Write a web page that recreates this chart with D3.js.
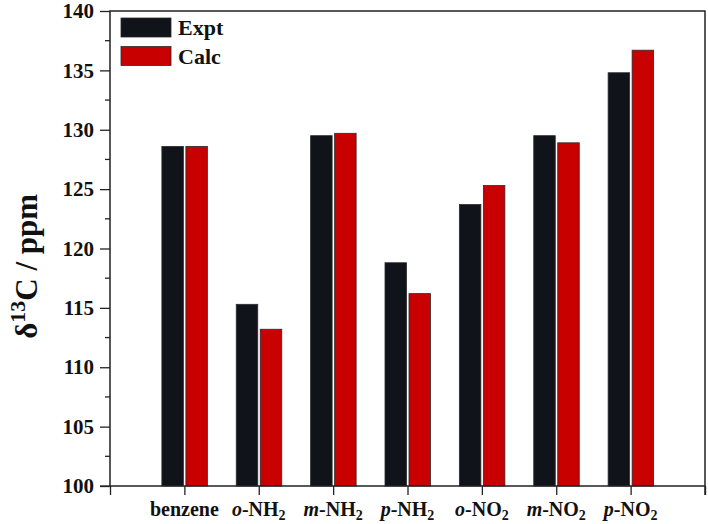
<!DOCTYPE html>
<html>
<head>
<meta charset="utf-8">
<script src="https://cdn.jsdelivr.net/npm/d3@7"></script>
<style>
  body { margin: 0; background: #fff; }
  text { font-family: "Liberation Serif", "Times New Roman", serif; font-weight: bold; fill: #111; }
</style>
</head>
<body>
<div id="chart"></div>
<script>
// data
const compounds = ["benzene", "o-NH2", "m-NH2", "p-NH2", "o-NO2", "m-NO2", "p-NO2"];
const expt = [128.6, 115.3, 129.5, 118.8, 123.7, 129.5, 134.8];
const calc = [128.6, 113.2, 129.7, 116.2, 125.3, 128.9, 136.7];
const yTicks = [100, 105, 110, 115, 120, 125, 130, 135, 140];
const seriesNames = ["Expt", "Calc"];
const seriesColors = ["#11131a", "#c80000"];

const margin = {top: 11, right: 3, bottom: 38, left: 110},
    width = 708 - margin.left - margin.right,
    height = 524 - margin.top - margin.bottom;

const svg = d3.select("#chart")
  .append("svg")
    .attr("width", 708)
    .attr("height", 524)
  .append("g")
    .attr("transform", `translate(${margin.left}, ${margin.top})`);

// categories sit at 1..7 on a 0..8 axis
const x = d3.scaleLinear()
  .domain([0, compounds.length + 1])
  .range([0, width]);

const y = d3.scaleLinear()
  .domain([100, 140])
  .range([height, 0]);

const barW = 21.5;

const rows = compounds.map((c, i) => ({name: c, pos: i + 1, vals: [expt[i], calc[i]]}));

const groups = svg.selectAll(".grp")
  .data(rows)
  .enter()
  .append("g")
    .attr("class", "grp");

groups.selectAll("rect")
  .data(d => d.vals.map((v, k) => ({pos: d.pos, v: v, k: k})))
  .enter()
  .append("rect")
    .attr("x", d => d.k == 0 ? x(d.pos) - 1 - barW : x(d.pos) + 1.5)
    .attr("y", d => y(d.v))
    .attr("width", barW)
    .attr("height", d => height - y(d.v))
    .attr("fill", d => seriesColors[d.k])
    .attr("stroke", "#2a2a2a")
    .attr("stroke-width", 0.8);

// y axis: major ticks with labels, minor every 2.5
const minor = d3.range(102.5, 140, 5);
svg.append("g")
  .selectAll("line.minor")
  .data(minor)
  .enter()
  .append("line")
    .attr("x1", -5).attr("x2", 0)
    .attr("y1", d => y(d)).attr("y2", d => y(d))
    .attr("stroke", "#222").attr("stroke-width", 1.3);

const yAxis = svg.append("g")
  .call(d3.axisLeft(y).tickValues(yTicks).tickSize(10).tickPadding(6).tickSizeOuter(0));
yAxis.selectAll("text").style("font-size", "21px").style("font-family", "Liberation Serif").style("font-weight", "bold").attr("fill", "#111");
yAxis.selectAll("line").attr("stroke", "#222").attr("stroke-width", 1.3);
yAxis.select(".domain").remove();

// x axis ticks
const xAxis = svg.append("g")
  .attr("transform", "translate(0," + height + ")")
  .call(d3.axisBottom(x).tickValues(d3.range(0, compounds.length + 2)).tickSize(9).tickSizeOuter(0).tickFormat(""));
xAxis.selectAll("line").attr("stroke", "#222").attr("stroke-width", 1.3);
xAxis.select(".domain").remove();

// frame
svg.append("rect")
  .attr("x", 0).attr("y", 0)
  .attr("width", width).attr("height", height)
  .attr("fill", "none")
  .attr("stroke", "#222")
  .attr("stroke-width", 1.5);
// axis lines stick out past the corner like the original
svg.append("line").attr("x1", -10).attr("x2", 0).attr("y1", height).attr("y2", height).attr("stroke", "#222").attr("stroke-width", 1.3);
svg.append("line").attr("x1", width).attr("x2", width).attr("y1", height).attr("y2", height + 9).attr("stroke", "#222").attr("stroke-width", 1.5);

// category labels with italic prefix and subscript
rows.forEach(function(d) {
  const t = svg.append("text")
    .attr("x", x(d.pos))
    .attr("y", height + 30)
    .attr("text-anchor", "middle")
    .style("font-size", "20px");
  const m = d.name.match(/^([omp])-(NH|NO)2$/);
  if (m) {
    t.append("tspan").style("font-style", "italic").text(m[1]);
    t.append("tspan").text("-" + m[2]);
    t.append("tspan").attr("dy", 4).style("font-size", "14px").text("2");
  } else {
    t.text(d.name);
  }
});

// y title
const yt = svg.append("text")
  .attr("transform", "rotate(-90)")
  .attr("x", -y(118.5))
  .attr("y", -73)
  .attr("text-anchor", "middle")
  .style("font-size", "31px");
yt.append("tspan").text("δ");
yt.append("tspan").attr("dy", -12).style("font-size", "22px").text("13");
yt.append("tspan").attr("dy", 12).text("C / ppm");

// legend
const legend = svg.append("g").attr("transform", "translate(11, 7)");
seriesNames.forEach(function(n, i) {
  legend.append("rect")
    .attr("x", 0).attr("y", i * 28.5)
    .attr("width", 50).attr("height", 19)
    .attr("fill", seriesColors[i])
    .attr("stroke", "#2a2a2a").attr("stroke-width", 0.8);
  legend.append("text")
    .attr("x", 57).attr("y", i * 28.5 + 17)
    .style("font-size", "22px")
    .text(n);
});
</script>
</body>
</html>
